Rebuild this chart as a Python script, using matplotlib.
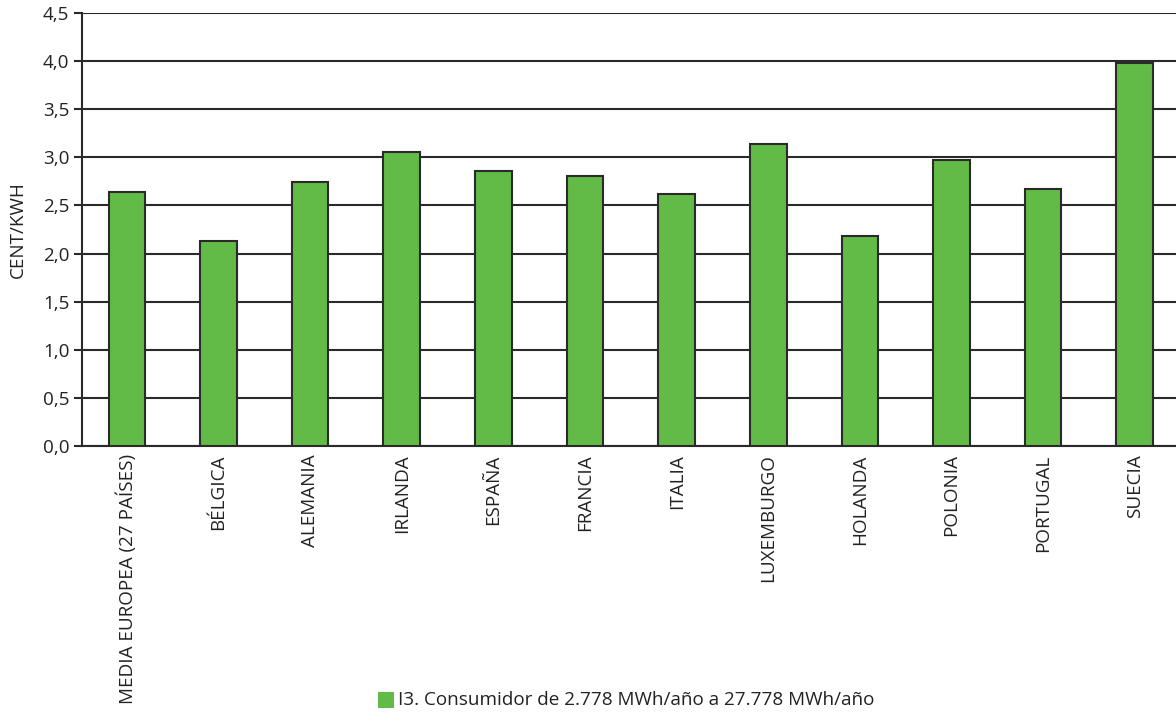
import matplotlib
matplotlib.use("Agg")
import matplotlib.pyplot as plt
from matplotlib.patches import Rectangle

categories = ["MEDIA EUROPEA (27 PAÍSES)", "BÉLGICA", "ALEMANIA", "IRLANDA", "ESPAÑA",
              "FRANCIA", "ITALIA", "LUXEMBURGO", "HOLANDA", "POLONIA", "PORTUGAL", "SUECIA"]
values = [2.64, 2.13, 2.74, 3.06, 2.86, 2.81, 2.62, 3.14, 2.18, 2.97, 2.67, 3.98]
yticks = [0.0, 0.5, 1.0, 1.5, 2.0, 2.5, 3.0, 3.5, 4.0, 4.5]
ytick_labels = ["0,0", "0,5", "1,0", "1,5", "2,0", "2,5", "3,0", "3,5", "4,0", "4,5"]
series_label = "I3. Consumidor de 2.778 MWh/año a 27.778 MWh/año"
y_label = "CENT/KWH"

plt.rcParams["font.family"] = ["Open Sans", "DejaVu Sans"]

green = "#62bb46"
dark = "#2a2a2a"
text_color = "#222222"
fs = 13.6

fig = plt.figure(figsize=(11.76, 7.13), dpi=100)
ax = fig.add_axes([0.0697, 0.3745, 0.9303, 0.6073])

x = list(range(len(categories)))
ax.bar(x, values, width=0.4, color=green, edgecolor=dark, linewidth=1.5, zorder=3)

ax.set_ylim(0, 4.5)
ax.set_xlim(-0.49, 11.45)
ax.set_yticks(yticks)
ax.set_yticklabels(ytick_labels, fontsize=fs, color=text_color)
ax.yaxis.grid(True, color=dark, linewidth=1.5, zorder=1)
ax.set_axisbelow(True)

ax.set_xticks(x)
ax.set_xticklabels(categories, rotation=90, fontsize=fs, color=text_color, va="top", ha="center")
ax.tick_params(axis="x", length=0, pad=6)
ax.tick_params(axis="y", length=6, width=1.5, color=dark, pad=3)

for side in ["top", "right"]:
    ax.spines[side].set_visible(False)
ax.spines["left"].set_color(dark)
ax.spines["left"].set_linewidth(1.5)
ax.spines["bottom"].set_color(dark)
ax.spines["bottom"].set_linewidth(1.5)

ax.set_ylabel(y_label, fontsize=fs, color=text_color)
ax.yaxis.set_label_coords(-0.050, 0.5)

# legend entry centred below the chart
fig.patches.append(Rectangle((378 / 1176, 1 - 708 / 713), 16 / 1176, 16 / 713,
                             transform=fig.transFigure, facecolor=green, edgecolor="none"))
fig.text(398 / 1176, 1 - 700 / 713, series_label, fontsize=fs, color=text_color,
         ha="left", va="center")

fig.savefig("out.png", dpi=100)
